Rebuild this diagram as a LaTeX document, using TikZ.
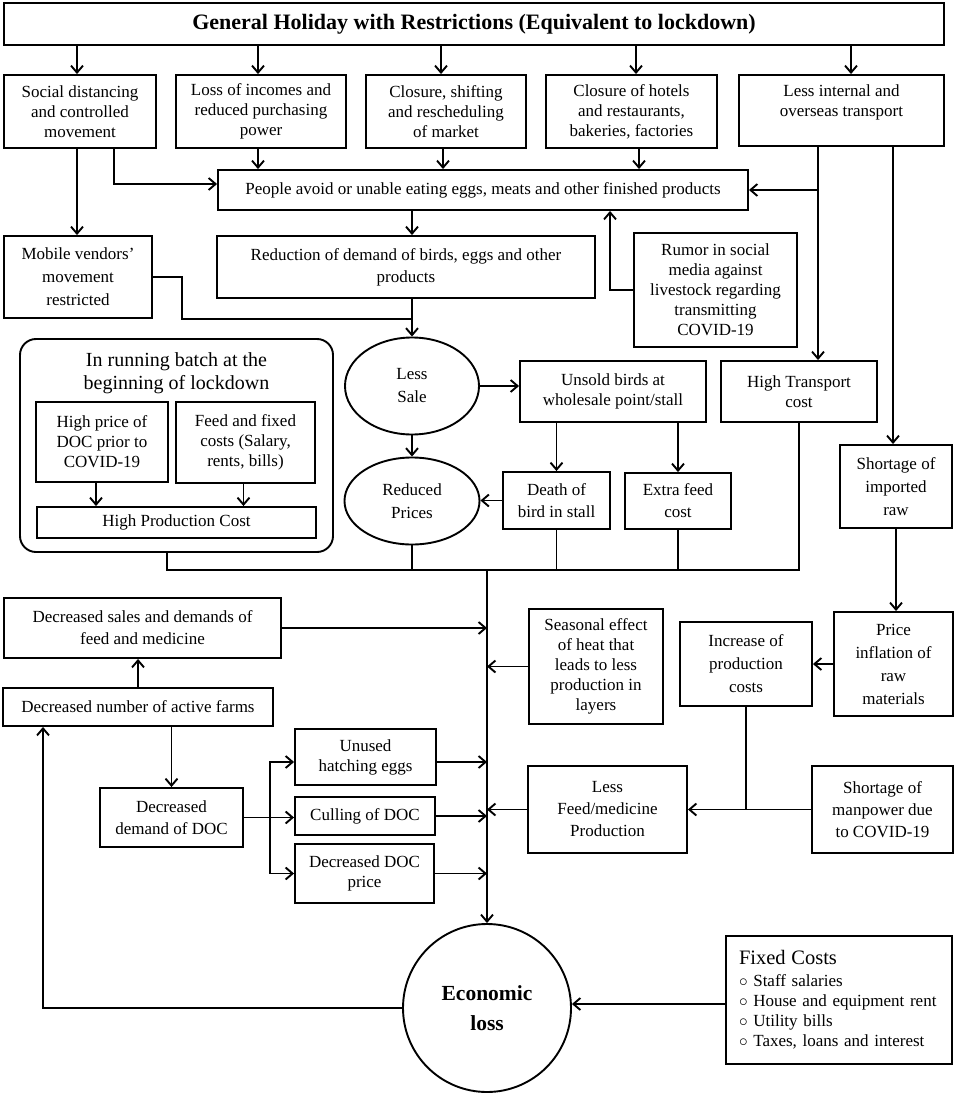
\documentclass[tikz,border=0pt]{standalone}
\usepackage{fontspec}
\setmainfont{Liberation Serif}
\usetikzlibrary{arrows.meta,shapes.geometric}
\tikzset{
  base/.style={font=\fontsize{17}{20}\selectfont, align=center, inner sep=0pt},
  box/.style={base, draw, line width=1.9pt, rectangle},
  ln/.style={line width=1.9pt},
  arr/.style={line width=1.9pt, -{Straight Barb[length=7pt,width=12pt]}},
}
\newcommand\mybox[6][]{%
  \node[box, minimum width={#5-#3}, minimum height={#6-#4}, #1] (#2) at ({(#3+#5)/2},{(#4+#6)/2})}
\begin{document}
\begin{tikzpicture}[x=1pt,y=-1pt]
\useasboundingbox (0,0) rectangle (957,1094);
% ---------- boxes ----------
\mybox[font=\bfseries\fontsize{22}{26}\selectfont]{top}{4}{3}{944}{45} {General Holiday with Restrictions (Equivalent to lockdown)};
\mybox{soc}{4}{75}{156}{148} {Social distancing\\and controlled\\movement};
\mybox{loss}{176}{75}{346}{148} {Loss of incomes and\\reduced purchasing\\power};
\mybox{clos}{366}{75}{526}{148} {Closure, shifting\\and rescheduling\\of market};
\mybox{hotel}{546}{75}{717}{148} {Closure of hotels\\and restaurants,\\bakeries, factories};
\mybox{trans}{739}{75}{944}{146} {Less internal and\\overseas transport\\\mbox{}};
\mybox{people}{218}{170}{748}{210} {People avoid or unable eating eggs, meats and other finished products};
\mybox[font=\fontsize{17}{23}\selectfont]{mob}{4}{236}{152}{318} {Mobile vendors’\\movement\\restricted};
\mybox[font=\fontsize{17}{22}\selectfont]{red}{217}{236}{595}{298} {Reduction of demand of birds, eggs and other\\products};
\mybox{rumor}{634}{233}{797}{347} {Rumor in social\\media against\\livestock regarding\\transmitting\\COVID-19};
\mybox{hitrans}{721}{361}{877}{422} {High Transport\\cost};
\mybox{unsold}{520}{361}{706}{422} {Unsold birds at\\wholesale point/stall};
\mybox[font=\fontsize{17}{22}\selectfont]{death}{503}{472}{610}{529} {Death of\\bird in stall};
\mybox[font=\fontsize{17}{22}\selectfont]{extra}{625}{473}{731}{529} {Extra feed\\cost};
\mybox[font=\fontsize{17}{23}\selectfont]{short}{840}{445}{952}{528} {Shortage of\\imported\\raw};
\node[base, draw, ellipse, line width=1.9pt, minimum width=134, minimum height=97, font=\fontsize{17}{23}\selectfont] (lesssale) at (412,386) {Less\\Sale};
\node[base, draw, ellipse, line width=1.9pt, minimum width=135, minimum height=87, font=\fontsize{17}{23}\selectfont] (redprices) at (412,501) {Reduced\\Prices};
% running batch group
\node[draw, line width=1.9pt, rounded corners=16pt, minimum width=313, minimum height=213, inner sep=0pt] (batch) at (176.5,445.5) {};
\node[base, font=\fontsize{20}{23}\selectfont] (batchtitle) at (176.5,373) {In running batch at the\\beginning of lockdown};
\mybox{hp}{36}{402}{168}{482} {High price of\\DOC prior to\\COVID-19};
\mybox{ff}{176}{402}{315}{483} {Feed and fixed\\costs (Salary,\\rents, bills)};
\mybox{hpc}{37}{507}{316}{538} {High Production Cost};
% lower left
\mybox[font=\fontsize{17}{22}\selectfont]{decsales}{4}{598}{281}{658} {Decreased sales and demands of\\feed and medicine};
\mybox{farms}{3}{688}{273}{726} {Decreased number of active farms};
\mybox[font=\fontsize{17}{22}\selectfont]{ddoc}{100}{788}{243}{847} {Decreased\\demand of DOC};
\mybox{unused}{295}{729}{436}{785} {Unused\\hatching eggs};
\mybox{cull}{295}{797}{435}{835} {Culling of DOC};
\mybox{docprice}{295}{844}{434}{903} {Decreased DOC\\price};
% lower right
\mybox{seasonal}{529}{609}{663}{724} {Seasonal effect\\of heat that\\leads to less\\production in\\layers};
\mybox[font=\fontsize{17}{23}\selectfont]{incr}{680}{622}{812}{706} {Increase of\\production\\costs};
\mybox[font=\fontsize{17}{23}\selectfont]{price}{834}{612}{953}{716} {Price\\inflation of\\raw\\materials};
\mybox[font=\fontsize{17}{22}\selectfont]{lessfeed}{528}{766}{687}{853} {Less\\Feed/medicine\\Production};
\mybox[font=\fontsize{17}{22}\selectfont]{manpower}{812}{766}{953}{853} {Shortage of\\manpower due\\to COVID-19};
% economic loss and fixed costs
\node[draw, circle, line width=1.9pt, minimum size=168, inner sep=0pt, align=center, font=\bfseries\fontsize{21.5}{30}\selectfont] (econ) at (487,1008) {Economic\\loss};
\mybox[align=left, text width=200pt]{fixed}{726}{936}{952}{1064} {{\fontsize{20.5}{24}\selectfont Fixed Costs}\\[2pt]
$\circ$ Staff salaries\\
$\circ$ House and equipment rent\\
$\circ$ Utility bills\\
$\circ$ Taxes, loans and interest};
% ---------- connectors ----------
% from top
\draw[arr] ([xshift=-3pt]top.south -| soc.north) -- ([xshift=-3pt]soc.north);
\draw[arr] ([xshift=-3pt]top.south -| loss.north) -- ([xshift=-3pt]loss.north);
\draw[arr] ([xshift=-5pt]top.south -| clos.north) -- ([xshift=-5pt]clos.north);
\draw[arr] ([xshift=4.5pt]top.south -| hotel.north) -- ([xshift=4.5pt]hotel.north);
\draw[arr] ([xshift=9.5pt]top.south -| trans.north) -- ([xshift=9.5pt]trans.north);
% into people
\draw[arr] ([xshift=-3pt]loss.south) -- ([xshift=-3pt]loss.south |- people.north);
\draw[arr] ([xshift=-3pt]clos.south) -- ([xshift=-3pt]clos.south |- people.north);
\draw[arr] ([xshift=7.5pt]hotel.south) -- ([xshift=7.5pt]hotel.south |- people.north);
\draw[arr] ([xshift=34pt]soc.south) |- ([yshift=6pt]people.west);
\draw[arr] ([xshift=-3pt]soc.south) -- ([xshift=-3pt]soc.south |- mob.north);
\draw[arr] (rumor.west) -| ([xshift=127pt]people.south);
\coordinate (b1) at ([xshift=-23.5pt]trans.south |- people.east);
\draw[arr] (b1) -- (people.east);
\draw[arr] ([xshift=-23.5pt]trans.south) -- ([xshift=-23.5pt]trans.south |- hitrans.north);
\draw[arr] ([xshift=51.5pt]trans.south) -- ([xshift=51.5pt]trans.south |- short.north);
% demand chain
\draw[arr] (people.south -| lesssale.north) -- (red.north -| lesssale.north);
\coordinate (j1) at (lesssale.north |- mob.south);
\draw[ln] (mob.east) -- ++(29,0) |- (j1);
\draw[arr] (red.south -| lesssale.north) -- (lesssale.north);
\draw[arr] (lesssale.south) -- (lesssale.south |- redprices.north);
\draw[arr] (lesssale.east) -- (lesssale.east -| unsold.west);
\draw[arr] (death.north |- unsold.south) -- (death.north);
\draw[arr] (extra.north |- unsold.south) -- (extra.north);
\draw[arr] (death.west) -- (death.west -| redprices.east);
% batch internals
\draw[arr] ([xshift=-6pt]hp.south) -- ([xshift=-6pt]hp.south |- hpc.north);
\draw[arr] ([xshift=-2pt]ff.south) -- ([xshift=-2pt]ff.south |- hpc.north);
% bus into economic loss
\coordinate (busL) at (167,570);
\coordinate (busR) at (hitrans.south |- busL);
\draw[ln] (busL |- batch.south) -- (busL) -- (busR) -- (hitrans.south);
\draw[ln] (redprices.south) -- (redprices.south |- busL);
\draw[ln] (death.south) -- (death.south |- busL);
\draw[ln] (extra.south) -- (extra.south |- busL);
\draw[arr] (econ.north |- busL) -- (econ.north);
% left side into trunk
\draw[arr] (decsales.east) -- (decsales.east -| econ.north);
\draw[arr] (farms.north) -- (farms.north |- decsales.south);
\draw[arr] (ddoc.north |- farms.south) -- (ddoc.north);
\coordinate (sp) at ([xshift=26pt]ddoc.east);
\draw[arr] (ddoc.east) -- (ddoc.east -| cull.west);
\draw[arr] (sp) |- ([yshift=-5pt]unused.west);
\draw[arr] (sp) |- (docprice.west);
\draw[arr] ([yshift=-5pt]unused.east) -- ([yshift=-5pt]unused.east -| econ.north);
\draw[arr] (cull.east) -- (cull.east -| econ.north);
\draw[arr] (docprice.east) -- (docprice.east -| econ.north);
\draw[arr] (econ.west) -| ([xshift=-95pt]farms.south);
% right side into trunk
\draw[arr] (seasonal.west) -- (seasonal.west -| econ.north);
\draw[arr] (lessfeed.west) -- (lessfeed.west -| econ.north);
\draw[arr] (short.south) -- (short.south |- price.north);
\draw[arr] (price.west) -- (price.west -| incr.east);
\draw[ln] (incr.south) -- (incr.south |- manpower.west);
\draw[arr] (manpower.west) -- (lessfeed.east);
\draw[arr] ([yshift=-4pt]fixed.west) -- ([yshift=-4pt]fixed.west -| econ.east);
\end{tikzpicture}
\end{document}
